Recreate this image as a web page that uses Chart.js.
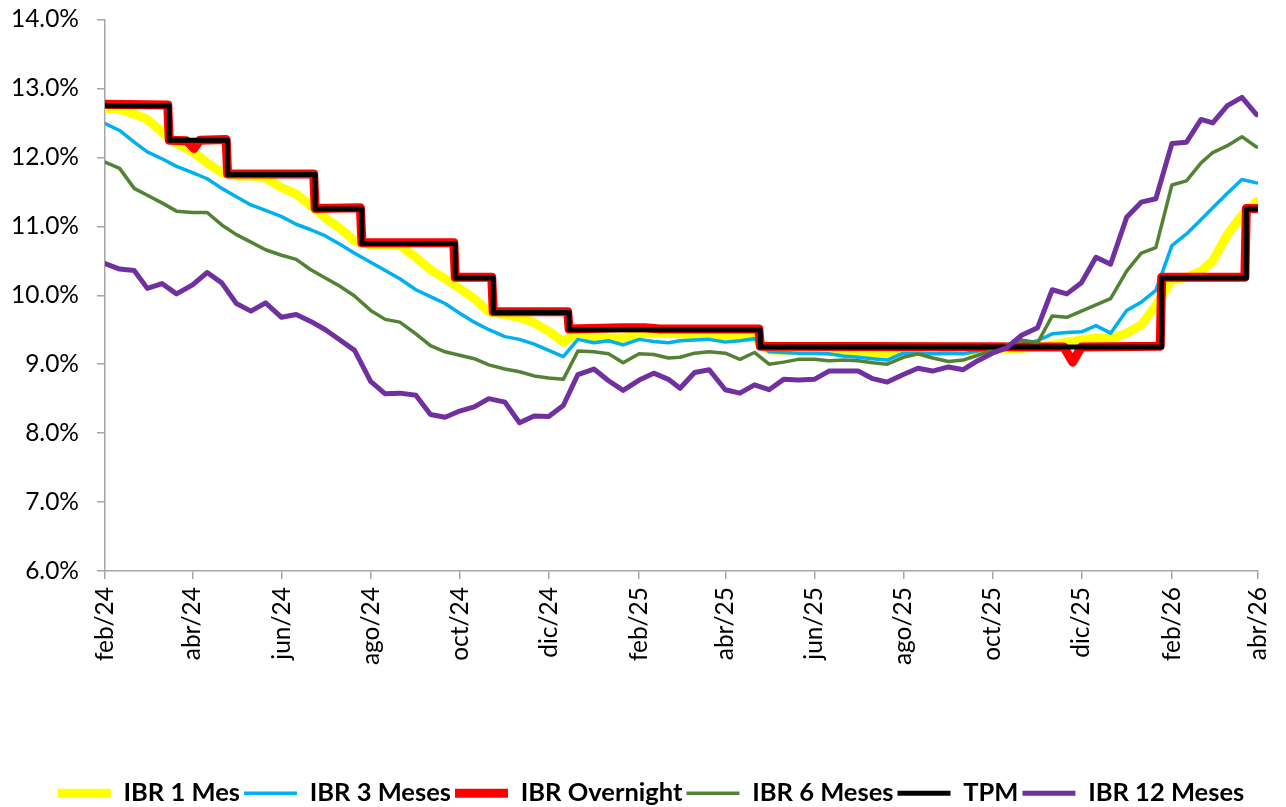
<!DOCTYPE html>
<html lang="es">
<head>
<meta charset="utf-8">
<title>IBR y TPM</title>
<script src="https://cdn.jsdelivr.net/npm/chart.js@4.4.1/dist/chart.umd.min.js"></script>
<style>
  body { margin: 0; background: #fff; }
  canvas { display: block; }
</style>
</head>
<body>
<canvas id="grafico" width="1286" height="807"></canvas>
<script>
// Fechas (cada ~10 dias) para las series IBR
const fechas = [
  '2024-02-01','2024-02-11','2024-02-21','2024-03-01','2024-03-11','2024-03-21','2024-04-01','2024-04-11','2024-04-21','2024-05-01',
  '2024-05-11','2024-05-21','2024-06-01','2024-06-11','2024-06-21','2024-07-01','2024-07-11','2024-07-21','2024-08-01','2024-08-11',
  '2024-08-21','2024-09-01','2024-09-11','2024-09-21','2024-10-01','2024-10-11','2024-10-21','2024-11-01','2024-11-11','2024-11-21',
  '2024-12-01','2024-12-11','2024-12-21','2025-01-01','2025-01-11','2025-01-21','2025-02-01','2025-02-11','2025-02-21','2025-03-01',
  '2025-03-11','2025-03-21','2025-04-01','2025-04-11','2025-04-21','2025-05-01','2025-05-11','2025-05-21','2025-06-01','2025-06-11',
  '2025-06-21','2025-07-01','2025-07-11','2025-07-21','2025-08-01','2025-08-11','2025-08-21','2025-09-01','2025-09-11','2025-09-21',
  '2025-10-01','2025-10-11','2025-10-21','2025-11-01','2025-11-11','2025-11-21','2025-12-01','2025-12-11','2025-12-21','2026-01-01',
  '2026-01-11','2026-01-21','2026-02-01','2026-02-11','2026-02-21','2026-03-01','2026-03-11','2026-03-21','2026-03-31'
];

const ibr1Mes = [
  12.71,12.70,12.63,12.55,12.37,12.20,12.08,11.92,11.78,11.73,
  11.73,11.70,11.56,11.47,11.30,11.12,10.97,10.79,10.73,10.73,
  10.72,10.55,10.37,10.24,10.10,9.95,9.76,9.72,9.68,9.60,
  9.48,9.32,9.46,9.39,9.37,9.38,9.44,9.45,9.45,9.44,
  9.42,9.41,9.40,9.39,9.38,9.21,9.20,9.19,9.19,9.18,
  9.18,9.17,9.17,9.16,9.17,9.18,9.18,9.19,9.19,9.20,
  9.21,9.22,9.23,9.25,9.28,9.32,9.35,9.38,9.37,9.45,
  9.57,9.85,10.22,10.26,10.35,10.50,10.88,11.16,11.36
];

const ibr3Meses = [
  12.49,12.39,12.22,12.08,11.98,11.87,11.78,11.69,11.55,11.43,
  11.31,11.23,11.14,11.03,10.95,10.86,10.74,10.61,10.48,10.36,
  10.24,10.08,9.98,9.88,9.74,9.61,9.50,9.40,9.36,9.29,
  9.20,9.11,9.36,9.31,9.34,9.28,9.36,9.33,9.31,9.34,
  9.35,9.36,9.32,9.34,9.37,9.18,9.17,9.16,9.16,9.15,
  9.12,9.10,9.08,9.06,9.16,9.16,9.15,9.16,9.15,9.19,
  9.24,9.27,9.29,9.34,9.44,9.46,9.47,9.56,9.45,9.78,
  9.90,10.07,10.72,10.89,11.10,11.27,11.48,11.68,11.63
];

const ibr6Meses = [
  11.93,11.84,11.55,11.45,11.34,11.22,11.20,11.20,11.02,10.88,
  10.77,10.66,10.58,10.52,10.37,10.25,10.13,9.99,9.78,9.65,
  9.61,9.44,9.27,9.18,9.13,9.08,8.99,8.93,8.89,8.83,
  8.80,8.78,9.19,9.18,9.15,9.02,9.15,9.14,9.09,9.10,
  9.16,9.18,9.16,9.07,9.17,9.00,9.03,9.07,9.07,9.05,
  9.06,9.05,9.02,9.00,9.10,9.15,9.09,9.04,9.06,9.13,
  9.20,9.28,9.35,9.31,9.70,9.68,9.77,9.86,9.95,10.35,
  10.61,10.69,11.60,11.66,11.92,12.07,12.17,12.30,12.15
];

const ibr12Meses = [
  10.46,10.38,10.36,10.10,10.17,10.02,10.15,10.33,10.18,9.88,
  9.77,9.89,9.68,9.72,9.62,9.50,9.35,9.20,8.75,8.57,
  8.58,8.55,8.27,8.23,8.32,8.38,8.50,8.45,8.15,8.25,
  8.24,8.40,8.85,8.93,8.76,8.62,8.77,8.87,8.78,8.65,
  8.88,8.92,8.63,8.58,8.70,8.63,8.78,8.77,8.78,8.90,
  8.90,8.90,8.79,8.74,8.85,8.94,8.90,8.96,8.92,9.05,
  9.16,9.24,9.42,9.53,10.08,10.02,10.18,10.55,10.45,11.13,
  11.35,11.40,12.20,12.22,12.55,12.50,12.75,12.87,12.62
];

// IBR Overnight: fechas propias (saltos y caidas puntuales)
const overnightFechas = [
  '2024-02-01','2024-03-15','2024-03-16','2024-03-28','2024-04-02','2024-04-06','2024-04-24','2024-04-25',
  '2024-06-23','2024-06-24','2024-07-25','2024-07-26','2024-09-27','2024-09-28','2024-10-23','2024-10-24',
  '2024-12-14','2024-12-15','2025-01-20','2025-02-05','2025-02-15','2025-04-24','2025-04-25',
  '2025-11-19','2025-11-25','2025-12-01','2026-01-24','2026-01-25','2026-03-23','2026-03-24','2026-03-31'
];
const overnight = [
  12.77,12.76,12.25,12.24,12.13,12.25,12.26,11.76,
  11.76,11.26,11.27,10.76,10.76,10.26,10.26,9.76,
  9.76,9.51,9.53,9.53,9.51,9.51,9.26,
  9.25,9.03,9.25,9.26,10.26,10.26,11.26,11.26
];

// TPM: fechas de cambio de la tasa de politica monetaria
const tpmFechas = [
  '2024-02-01','2024-03-16','2024-04-25','2024-06-24','2024-07-26','2024-09-28',
  '2024-10-24','2024-12-15','2025-04-25','2026-01-25','2026-03-24','2026-03-31'
];
const tpm = [12.75,12.25,11.75,11.25,10.75,10.25,9.75,9.50,9.25,10.25,11.25,11.25];

// Eje X
const tickFechas = [
  '2024-02-01','2024-04-01','2024-06-01','2024-08-01','2024-10-01','2024-12-01','2025-02-01',
  '2025-04-01','2025-06-01','2025-08-01','2025-10-01','2025-12-01','2026-02-01','2026-04-01'
];
const etiquetasX = ['feb/24','abr/24','jun/24','ago/24','oct/24','dic/24','feb/25','abr/25','jun/25','ago/25','oct/25','dic/25','feb/26','abr/26'];

// Eje Y
const yMin = 6;
const yMax = 14;

// dias desde 1 feb 2024
const base = Date.UTC(2024, 1, 1);
function dia(f) {
  const p = f.split('-');
  return (Date.UTC(+p[0], +p[1] - 1, +p[2]) - base) / 86400000;
}
function puntos(fs, vals) {
  return fs.map((f, i) => ({ x: dia(f), y: vals[i] }));
}

const tickDias = tickFechas.map(dia);
const fuente = 'Lato, "Liberation Sans", Arial, sans-serif';
const gris = '#a6a6a6';

// la leyenda va un poco a la derecha, como en el original
const moverLeyenda = {
  id: 'moverLeyenda',
  afterLayout(chart) {
    chart.legend.left += 22;
    chart.legend.right += 22;
  }
};

const ctx = document.getElementById('grafico').getContext('2d');
const grafico = new Chart(ctx, {
  type: 'line',
  data: {
    datasets: [
      { label: 'IBR 1 Mes', data: puntos(fechas, ibr1Mes), borderColor: '#ffff00', backgroundColor: '#ffff00', borderWidth: 9, order: 6 },
      { label: 'IBR 3 Meses', data: puntos(fechas, ibr3Meses), borderColor: '#00b0f0', backgroundColor: '#00b0f0', borderWidth: 3.5, order: 5 },
      { label: 'IBR Overnight', data: puntos(overnightFechas, overnight), borderColor: '#ff0000', backgroundColor: '#ff0000', borderWidth: 9, order: 4 },
      { label: 'IBR 6 Meses', data: puntos(fechas, ibr6Meses), borderColor: '#548235', backgroundColor: '#548235', borderWidth: 3.5, order: 3 },
      { label: 'TPM', data: puntos(tpmFechas, tpm), borderColor: '#000000', backgroundColor: '#000000', borderWidth: 5, stepped: true, order: 2 },
      { label: 'IBR 12 Meses', data: puntos(fechas, ibr12Meses), borderColor: '#7030a0', backgroundColor: '#7030a0', borderWidth: 5, order: 1 }
    ]
  },
  plugins: [moverLeyenda],
  options: {
    responsive: false,
    animation: false,
    devicePixelRatio: 1,
    layout: { padding: { top: 19.5, right: 28, left: 0, bottom: -9 } },
    elements: {
      point: { radius: 0, hoverRadius: 0 },
      line: { tension: 0, borderCapStyle: 'round', borderJoinStyle: 'round', fill: false }
    },
    scales: {
      x: {
        type: 'linear',
        min: 0,
        max: dia('2026-04-01'),
        afterBuildTicks: function(scale) {
          scale.ticks = tickDias.map(v => ({ value: v }));
        },
        afterFit: function(scale) {
          scale.height = 205.5;
          scale.paddingLeft = 0;
          scale.paddingRight = 0;
        },
        border: { color: gris, width: 1.5 },
        grid: { drawOnChartArea: false, color: gris, lineWidth: 1.5, tickLength: 8 },
        ticks: {
          autoSkip: false,
          minRotation: 90,
          maxRotation: 90,
          padding: 8,
          color: '#000',
          font: { family: fuente, size: 24.5 },
          callback: function(value, index) { return etiquetasX[index]; }
        }
      },
      y: {
        min: yMin,
        max: yMax,
        afterFit: function(scale) {
          scale.width = 105;
          scale.paddingTop = 0;
          scale.paddingBottom = 0;
        },
        border: { color: gris, width: 1.5 },
        grid: { drawOnChartArea: false, color: gris, lineWidth: 1.5, tickLength: 8 },
        ticks: {
          stepSize: 1,
          padding: 18,
          color: '#000',
          font: { family: fuente, size: 24.5 },
          callback: v => v.toFixed(1) + '%'
        }
      }
    },
    plugins: {
      tooltip: { enabled: false },
      legend: {
        position: 'bottom',
        labels: {
          usePointStyle: true,
          pointStyle: 'line',
          pointStyleWidth: 53,
          padding: 4,
          color: '#000',
          font: { family: fuente, size: 25.5, weight: 'bold' },
          sort: (a, b) => a.datasetIndex - b.datasetIndex
        }
      }
    }
  }
});
</script>
</body>
</html>
